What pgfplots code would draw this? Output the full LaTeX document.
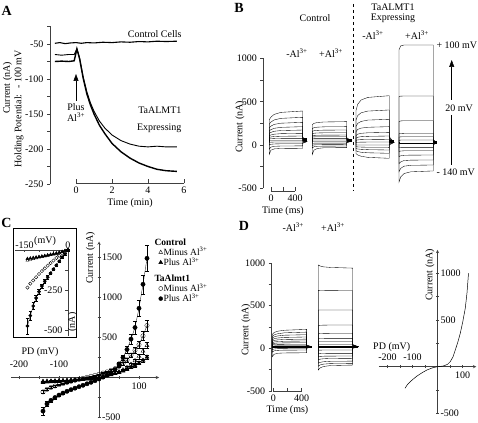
\documentclass[border=0pt]{standalone}
\usepackage{fontspec}
\setmainfont{Liberation Serif}
\usepackage{pgfplots}
\usepackage{pgfplotstable}
\pgfplotsset{compat=1.18}
\usetikzlibrary{arrows.meta}

\pgfplotsset{
  panel/.style={
    scale only axis, clip=false, anchor=south west,
    font=\fontsize{10}{11}\selectfont,
    /pgf/number format/assume math mode=true,
    /pgf/number format/1000 sep={},
    tick label style={font=\fontsize{10}{11}\selectfont},
    axis line style={-, black!75, line width=0.5pt},
    every inner x axis line/.append style={-},
    every inner y axis line/.append style={-},
    every outer x axis line/.append style={-},
    every outer y axis line/.append style={-},
    tick style={black!75, line width=0.5pt},
    major tick length=3pt, minor tick length=3pt,
  },
  trace/.style={black, line width=0.35pt, forget plot},
}

% ---------------- Panel A -----------------
\pgfplotstableread{
t v
-1.17 -49
-0.9 -48
-0.6 -49.5
-0.3 -48.5
0 -48
0.3 -49
0.6 -48
1 -48.5
1.5 -47.5
2 -48
2.5 -47
3 -47.5
3.5 -46.5
4 -47
4.5 -46
5 -46.5
5.6 -46
}\Actl
\pgfplotstableread{
t v
-1.17 -65
-0.8 -66
-0.4 -65
-0.1 -65
0.05 -57
0.2 -70
0.4 -97
0.6 -118
0.8 -134
1.0 -146
1.3 -160
1.6 -170
2.0 -180
2.5 -188
3.0 -193
3.5 -196
4.0 -197
4.5 -196
5.0 -197
5.6 -197
}\Aup
\pgfplotstableread{
t v
-1.17 -75
-0.8 -74.5
-0.4 -75
-0.1 -74
0.05 -57
0.2 -71
0.4 -99
0.6 -121
0.8 -137
1.0 -150
1.3 -166
1.6 -178
2.0 -192
2.5 -204
3.0 -213
3.5 -220
4.0 -225
4.5 -229
5.0 -231
5.6 -232
}\Alow

% ---------------- Panel B -----------------
\pgfplotstableread{
t c1 c2 c3 c4 c5 c6 c7 c8 c9 c10 c11 c12 c13
-30 40 40 40 40 40 40 40 40 40 40 40 40 40
-30 290 240 197 162 135 108 88 70 55 30 0 -50 -110
-2 322 265 218 177 146 116 93 72 55 33 8 -25 -60
54 354 290 238 193 159 125 98 74 55 34 12 -15 -45
166 377 308 252 204 167 131 101 76 55 35 14 -12 -40
530 393 320 262 212 173 135 104 77 55 35 15 -10 -38
530 90 80 72 65 58 52 47 42 38 34 30 25 20
600 40 40 40 40 40 40 40 40 40 40 40 40 40
}\Bone
\pgfplotstableread{
t c1 c2 c3 c4 c5 c6 c7 c8 c9 c10 c11 c12 c13
688 45 45 45 45 45 45 45 45 45 45 45 45 45
688 235 190 158 132 108 92 75 58 40 20 -5 -35 -110
716 250 200 165 136 111 94 76 58 40 21 1 -20 -60
772 260 206 169 139 113 95 77 58 40 22 3 -15 -40
884 266 210 172 141 114 96 77 58 40 22 4 -13 -32
1262 270 212 173 142 115 96 77 58 40 22 5 -12 -30
1262 85 78 72 66 60 55 50 46 42 38 34 30 26
1345 45 45 45 45 45 45 45 45 45 45 45 45 45
}\Btwo
\pgfplotstableread{
t c1 c2 c3 c4 c5 c6 c7 c8 c9 c10 c11 c12 c13
1417 30 30 30 30 30 30 30 30 30 30 30 30 30
1417 400 290 215 155 110 80 55 30 0 -20 -42 -68 -100
1445 470 340 250 180 125 90 59 32 0 -22 -46 -76 -115
1501 520 372 272 195 135 96 62 33 0 -24 -50 -84 -130
1613 550 392 288 205 141 100 64 34 0 -26 -54 -90 -143
1972 570 405 297 212 146 104 66 35 0 -27 -58 -96 -154
1972 95 85 75 66 58 50 42 35 28 21 14 7 0
2050 30 30 30 30 30 30 30 30 30 30 30 30 30
}\Bthree
\pgfplotstableread{
t c1 c2 c3 c4 c5 c6 c7 c8 c9 c10 c11 c12 c13
2133 30 30 30 30 30 30 30 30 30 30 30 30 30
2133 1100 560 270 130 92 55 20 -30 -75 -135 -215 -310 -430
2161 1145 565 278 133 94 57 20 -28 -70 -125 -195 -270 -370
2217 1156 566 281 135 96 58 20 -27 -67 -119 -180 -245 -330
2329 1156 566 281 135 96 58 20 -27 -66 -117 -175 -235 -310
2705 1156 566 281 135 96 58 20 -27 -66 -116 -173 -231 -300
2705 60 55 50 45 40 35 30 25 20 15 10 5 0
2762 30 30 30 30 30 30 30 30 30 30 30 30 30
}\Bfour

% ---------------- Panel C -----------------
\pgfplotstableread{
V ot ft oc fc eot eft eoc efc
-140 -60 -48 -180 -420 8 6 20 45
-130 -56 -46 -148 -330 8 6 15 30
-120 -53 -44 -124 -285 7 6 12 20
-110 -50 -42 -106 -250 7 5 10 15
-100 -47 -40 -90 -220 6 5 8 12
-90 -44 -38 -76 -195 6 5 8 10
-80 -40 -36 -62 -172 6 5 8 10
-70 -36 -33 -48 -152 5 5 6 8
-60 -32 -30 -35 -133 5 5 6 8
-50 -28 -26 -22 -115 5 5 6 8
-40 -23 -21 -10 -97 5 5 6 8
-30 -18 -16 2 -79 5 5 6 8
-20 -12 -10 15 -60 5 5 6 8
-10 -5 -3 28 -40 5 5 6 8
0 2 5 40 -18 5 5 6 8
10 12 15 55 5 5 5 6 8
20 22 25 70 30 6 5 8 10
30 35 37 90 60 6 5 8 10
40 50 50 110 100 8 6 10 15
50 70 65 140 170 10 6 15 25
60 95 82 175 250 12 8 20 35
70 125 102 220 350 15 10 25 45
80 165 125 280 480 20 12 30 60
90 210 150 340 625 25 15 40 80
100 265 180 410 865 30 18 50 100
110 330 215 520 1165 35 20 55 120
120 400 255 650 1490 40 25 70 160
}\Cmain
\pgfplotstableread{
V ot ft oc fc efc
-140 -65 -55 -235 -475 50
-130 -60 -52 -210 -410 30
-120 -55 -49 -190 -350 22
-110 -50 -46 -170 -300 18
-100 -46 -43 -150 -260 15
-90 -42 -40 -132 -225 12
-80 -38 -37 -115 -195 10
-70 -34 -33 -98 -170 10
-60 -30 -29 -82 -145 8
-50 -26 -25 -66 -120 8
-40 -22 -21 -50 -95 8
-30 -17 -16 -36 -70 6
-20 -12 -11 -22 -45 6
-10 -6 -5 -10 -25 5
0 0 0 0 0 5
}\Cinset

% ---------------- Panel D -----------------
\pgfplotstableread{
t c1 c2 c3 c4 c5 c6 c7 c8 c9 c10 c11 c12 c13
-14 18 18 18 18 18 18 18 18 18 18 18 18 18
-14 165 140 120 100 82 66 52 40 25 8 -15 -45 -98
10 185 157 134 112 92 74 58 44 28 11 -8 -30 -70
58 200 170 145 121 99 79 62 46 29 13 -4 -24 -58
156 212 182 154 128 104 83 64 47 30 14 -3 -21 -54
470 222 190 160 133 108 86 66 48 30 14 -2 -20 -52
470 40 36 32 28 25 22 19 16 13 10 7 4 0
541 18 18 18 18 18 18 18 18 18 18 18 18 18
}\Done
\pgfplotstableread{
t c1 c2 c3 c4 c5 c6 c7 c8 c9 c10 c11 c12 c13 c14 c15 c16
634 18 18 18 18 18 18 18 18 18 18 18 18 18 18 18 18
634 976 680 450 265 170 113 76 47 19 -22 -65 -100 -135 -175 -210 -254
658 965 678 450 270 173 115 77 47 19 -21 -62 -95 -127 -165 -195 -230
706 955 677 449 272 175 116 78 47 19 -20 -60 -92 -122 -157 -185 -213
804 948 676 449 273 176 117 78 47 19 -20 -59 -91 -119 -152 -179 -202
1118 940 675 449 273 176 117 78 47 19 -20 -59 -90 -117 -150 -176 -196
1118 45 42 39 36 33 30 27 24 21 18 15 12 9 6 3 0
1197 18 18 18 18 18 18 18 18 18 18 18 18 18 18 18 18
}\Dtwo
\pgfplotstableread{
V I
-130 -231
-120 -190
-109 -160
-95 -128
-82 -100
-60 -62
-42 -35
-20 -12
0 0
12 3
24 8
40 25
51 54
62 105
71 178
81 260
91 357
101 480
111 625
118 790
124 1000
}\Div

\begin{document}
\begin{tikzpicture}[font=\fontsize{10}{11}\selectfont]
\path[use as bounding box] (0pt,0pt) rectangle (478pt,422pt);

% ================= A =================
\begin{axis}[panel, at={(50pt,238pt)}, width=137.6pt, height=157.5pt,
  xmin=-1.444, xmax=6.2, ymin=-250, ymax=-25,
  axis x line=none, axis y line*=left, tick align=outside,
  ytick={-250,-200,...,-50}, minor ytick={-225,-175,...,-25}]
\addplot[black, line width=1.1pt, forget plot] table[x=t,y=v]{\Actl};
\addplot[black, line width=0.9pt, forget plot] table[x=t,y=v]{\Aup};
\addplot[black, line width=1.4pt, forget plot] table[x=t,y=v]{\Alow};
\end{axis}
\begin{axis}[panel, at={(76pt,238.5pt)}, width=108pt, height=10pt,
  xmin=0, xmax=6, ymin=0, ymax=1, axis y line=none, axis x line*=bottom,
  tick align=inside, major tick length=4pt, xtick={0,2,4,6},
  xlabel={Time (min)}, xlabel style={yshift=2pt}]
\end{axis}

% ================= B =================
\begin{axis}[panel, at={(263.3pt,233.75pt)}, width=187.7pt, height=129.75pt,
  xmin=-128, xmax=3000, ymin=-500, ymax=1000,
  axis x line=none, axis y line*=left, tick align=outside,
  ytick={-500,0,500,1000}, minor ytick={-250,250,750}]
\pgfplotsinvokeforeach{1,...,13}{\addplot[trace] table[x=t,y=c#1]{\Bone};}
\pgfplotsinvokeforeach{1,...,13}{\addplot[trace] table[x=t,y=c#1]{\Btwo};}
\pgfplotsinvokeforeach{1,...,13}{\addplot[trace] table[x=t,y=c#1]{\Bthree};}
\pgfplotsinvokeforeach{1,...,13}{\addplot[trace] table[x=t,y=c#1]{\Bfour};}
\addplot[black, line width=3pt, forget plot] coordinates {(530,60) (600,60)};
\addplot[black, line width=2.5pt, forget plot] coordinates {(1262,50) (1345,50)};
\addplot[black, line width=3pt, forget plot] coordinates {(1972,40) (2050,40)};
\addplot[black, line width=3pt, forget plot] coordinates {(2705,30) (2762,30)};
\end{axis}
\begin{axis}[panel, at={(271pt,231pt)}, width=24pt, height=10pt,
  xmin=0, xmax=400, ymin=0, ymax=1, axis y line=none, axis x line*=bottom,
  tick align=inside, major tick length=4pt, minor tick length=4pt,
  xtick={0,400}, minor xtick={200},
  xlabel={Time (ms)}, xlabel style={yshift=2pt}]
\end{axis}

% ================= C =================
\begin{axis}[panel, at={(11pt,4.5pt)}, width=148pt, height=176pt,
  xmin=-220, xmax=150, ymin=-500, ymax=1700,
  axis lines=middle,
  xtick={100}, minor xtick={-150,-50,50}, extra x ticks={-200,-100},
  extra x tick style={xticklabel style={anchor=south, yshift=8pt}},
  ytick={-500,500,1000,1500}, minor ytick={-250,250,750,1250},
  yticklabel style={anchor=west, xshift=1pt},
  legend cell align=left,
  legend image code/.code={\draw[mark repeat=2,mark phase=2,#1] plot coordinates {(0pt,0pt)(3pt,0pt)(6pt,0pt)};},
  legend style={at={(axis description cs:0.99,1.02)}, anchor=north west,
    draw=none, fill=none, row sep=-1.2pt, inner sep=0pt,
    nodes={inner sep=0.8pt}, font=\fontsize{9.5}{9.5}\selectfont}]
\addlegendimage{empty legend}
\addlegendentry{\hspace*{-9pt}\textbf{Control}}
\addlegendimage{only marks, mark=triangle, mark size=2.2pt, black}
\addlegendentry{Minus Al\textsuperscript{3+}}
\addlegendimage{only marks, mark=triangle*, mark size=2.2pt, black}
\addlegendentry{Plus Al\textsuperscript{3+}}
\addlegendimage{empty legend}
\addlegendentry{\rule{0pt}{14pt}\hspace*{-9pt}\textbf{TaAlmt1}}
\addlegendimage{only marks, mark=o, mark size=2pt, black}
\addlegendentry{Minus Al\textsuperscript{3+}}
\addlegendimage{only marks, mark=*, mark size=2pt, black}
\addlegendentry{Plus Al\textsuperscript{3+}}
\addplot[black, line width=0.3pt, mark=*, mark size=2.2pt, forget plot,
  error bars/.cd, y dir=both, y explicit, error bar style={line width=0.4pt}]
  table[x=V, y=fc, y error=efc]{\Cmain};
\addplot[black, line width=0.3pt, mark=o, mark size=2.2pt, mark options={fill=white}, forget plot,
  error bars/.cd, y dir=both, y explicit, error bar style={line width=0.4pt}]
  table[x=V, y=oc, y error=eoc]{\Cmain};
\addplot[black, only marks, mark=triangle*, mark size=2.3pt, forget plot,
  error bars/.cd, y dir=both, y explicit, error bar style={line width=0.4pt}]
  table[x=V, y=ft, y error=eft]{\Cmain};
\addplot[black, only marks, mark=triangle, mark size=2.3pt, mark options={fill=white}, forget plot,
  error bars/.cd, y dir=both, y explicit, error bar style={line width=0.4pt}]
  table[x=V, y=ot, y error=eot]{\Cmain};
\end{axis}
\draw[line width=0.6pt] (13pt,85pt) rectangle (76pt,194pt);
\begin{axis}[panel, at={(15pt,85.6pt)}, width=52.9pt, height=86.4pt,
  xmin=-183, xmax=0, ymin=-540, ymax=0,
  axis x line*=top, axis y line*=right, tick align=inside,
  major tick length=2.5pt, minor tick length=2.5pt,
  xtick={-150,0}, minor xtick={-100,-50},
  ytick={-500,-250}, minor ytick={-375,-125},
  yticklabel style={anchor=east, xshift=-2pt},
  xticklabel style={yshift=-2pt}]
\addplot[black, line width=0.3pt, mark=*, mark size=1.7pt, forget plot,
  error bars/.cd, y dir=both, y explicit, error bar style={line width=0.4pt}]
  table[x=V, y=fc, y error=efc]{\Cinset};
\addplot[black, only marks, mark=o, mark size=1.7pt, mark options={fill=white}, forget plot]
  table[x=V, y=oc]{\Cinset};
\addplot[black, only marks, mark=triangle*, mark size=1.8pt, forget plot]
  table[x=V, y=ft]{\Cinset};
\addplot[black, only marks, mark=triangle, mark size=1.8pt, mark options={fill=white}, forget plot]
  table[x=V, y=ot]{\Cinset};
\end{axis}

% ================= D =================
\begin{axis}[panel, at={(271.7pt,31pt)}, width=90.35pt, height=128pt,
  xmin=-22.5, xmax=1250, ymin=-500, ymax=1000,
  axis x line=none, axis y line*=left, tick align=outside,
  ytick={-500,0,500,1000}, minor ytick={-250,250,750}]
\pgfplotsinvokeforeach{1,...,13}{\addplot[trace] table[x=t,y=c#1]{\Done};}
\pgfplotsinvokeforeach{1,...,16}{\addplot[trace] table[x=t,y=c#1]{\Dtwo};}
\addplot[black, line width=2.5pt, forget plot] coordinates {(-14,15) (541,15)};
\addplot[black, line width=2.5pt, forget plot] coordinates {(634,15) (1197,15)};
\end{axis}
\begin{axis}[panel, at={(273.3pt,30.3pt)}, width=28.4pt, height=10pt,
  xmin=0, xmax=400, ymin=0, ymax=1, axis y line=none, axis x line*=bottom,
  tick align=inside, major tick length=4pt, minor tick length=4pt,
  xtick={0,400}, minor xtick={200},
  xlabel={Time (ms)}, xlabel style={yshift=3pt}]
\end{axis}
\begin{axis}[panel, at={(378.75pt,8.6pt)}, width=97.5pt, height=163.5pt,
  xmin=-235, xmax=155, ymin=-500, ymax=1250,
  axis lines=middle,
  xtick={100}, minor xtick={-150,-50,50}, extra x ticks={-200,-100},
  extra x tick style={xticklabel style={anchor=south, yshift=4pt}},
  ytick={-500,500,1000}, minor ytick={-250,250,750},
  yticklabel style={anchor=west, xshift=1pt}]
\addplot[black, line width=0.5pt, forget plot] table[x=V,y=I]{\Div};
\end{axis}

% ================= annotations =================
\begin{scope}[x=1pt,y=1pt]
\node[font=\fontsize{14}{14}\selectfont\bfseries] at (6.7,411) {A};
\node[anchor=east] at (185,388) {Control Cells};
\node[anchor=east] at (185,312) {TaALMT1};
\node[anchor=east] at (185,294) {Expressing};
\node at (76,315) {Plus};
\node at (76,305) {Al\textsuperscript{3+}};
\draw[-{Triangle[length=7pt,width=5pt]}, line width=0.5pt] (76,321) -- (76,348);
\node[rotate=90] at (7.5,334) {Current (nA)};
\node[rotate=90] at (19,313) {Holding Potential: \ - 100 mV};

\node[font=\fontsize{14}{14}\selectfont\bfseries] at (239,414.5) {B};
\node at (315,404) {Control};
\node at (393,415) {TaALMT1};
\node at (393,404) {Expressing};
\node at (297,369) {-Al\textsuperscript{3+}};
\node at (331,369) {+Al\textsuperscript{3+}};
\node at (373,387) {-Al\textsuperscript{3+}};
\node at (417,387) {+Al\textsuperscript{3+}};
\draw[dashed, line width=0.5pt] (353,418) -- (353,231);
\node[anchor=west] at (433,377) {+ 100 mV};
\node at (459,314) {20 mV};
\node[anchor=west] at (433,250) {- 140 mV};
\draw[-{Triangle[length=7pt,width=5pt]}, line width=0.5pt] (451.7,322) -- (451.7,362);
\draw[line width=0.5pt] (451.7,307) -- (451.7,257);
\node[rotate=90] at (240,295) {Current (nA)};

\node[font=\fontsize{14}{14}\selectfont\bfseries] at (6.5,199) {C};
\node[rotate=90] at (90.5,164) {Current (nA)};
\node at (40,70) {PD (mV)};
\node at (45,181) {(mV)};
\node[rotate=90] at (72.5,100) {(nA)};

\node[font=\fontsize{14}{14}\selectfont\bfseries] at (244,196) {D};
\node at (293.3,195) {-Al\textsuperscript{3+}};
\node at (333,195) {+Al\textsuperscript{3+}};
\node[rotate=90] at (246,92) {Current (nA)};
\node[rotate=90] at (430,147) {Current (nA)};
\node at (391.7,75.3) {PD (mV)};
\end{scope}
\end{tikzpicture}
\end{document}
